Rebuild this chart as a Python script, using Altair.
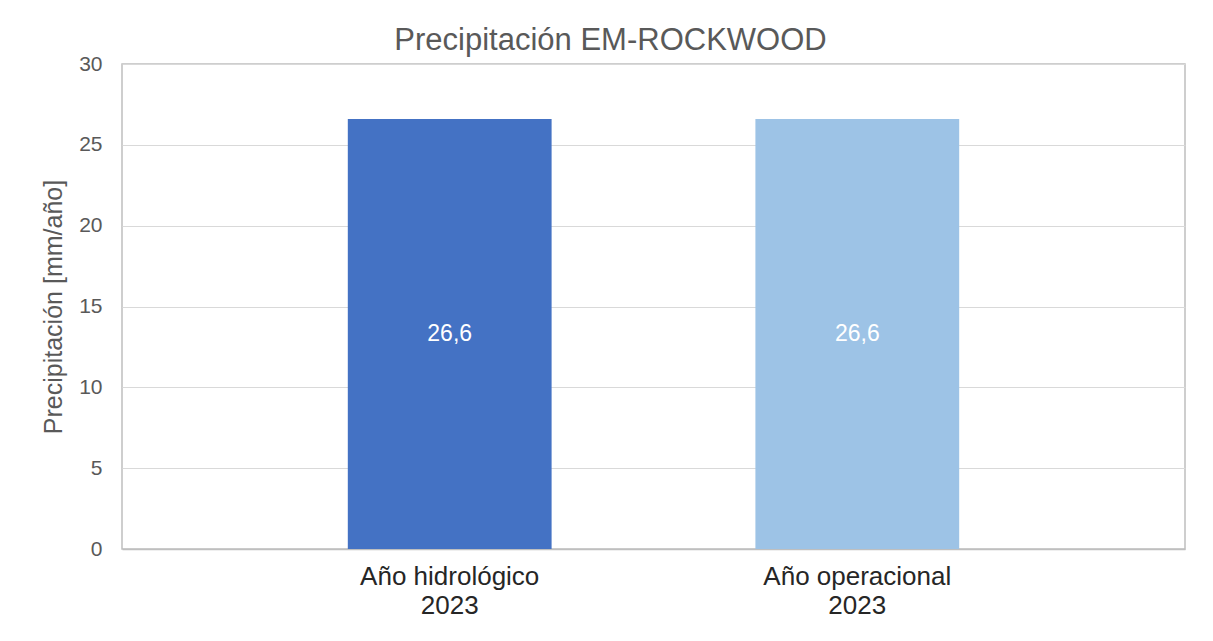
import altair as alt
import pandas as pd

categories = ["Año hidrológico 2023", "Año operacional 2023"]
label_lines = ["Año hidrológico|2023", "Año operacional|2023"]
values = [26.6, 26.6]
value_labels = ["26,6", "26,6"]
colors = ["#4472C4", "#9DC3E6"]

df = pd.DataFrame({"cat": label_lines, "val": values, "lbl": value_labels, "color": colors})

x = alt.X("cat:N", sort=label_lines, title=None,
          scale=alt.Scale(paddingInner=0.5, paddingOuter=0.554),
          axis=alt.Axis(labelAngle=0, labelExpr="split(datum.value, '|')",
                        labelFont="Liberation Sans", labelFontSize=26, labelColor="#262626",
                        labelPadding=14, labelLineHeight=29, labelLimit=500, ticks=False,
                        domainColor="#BFBFBF", domainWidth=1.5))

bars = alt.Chart(df).mark_bar().encode(
    x=x,
    y=alt.Y("val:Q", title="Precipitación [mm/año]",
            scale=alt.Scale(domain=[0, 30]),
            axis=alt.Axis(values=[0, 5, 10, 15, 20, 25, 30], ticks=False, domain=False,
                          labelFont="Liberation Sans", labelFontSize=21, labelColor="#595959",
                          labelPadding=20, titleFont="Liberation Sans", titleFontSize=25,
                          titleFontWeight="normal", titleColor="#595959", titlePadding=12,
                          gridColor="#D9D9D9", gridWidth=1)),
    color=alt.Color("color:N", scale=None),
)

text = alt.Chart(df).transform_calculate(mid="datum.val / 2").mark_text(
    font="Liberation Sans", fontSize=23, color="white", baseline="middle"
).encode(x=alt.X("cat:N", sort=label_lines), y="mid:Q", text="lbl:N")

chart = (bars + text).properties(
    width=1063, height=485,
    padding={"left": 114, "top": 56, "right": 20, "bottom": 85},
    autosize=alt.AutoSizeParams(type="none"),
    title=alt.TitleParams("Precipitación EM-ROCKWOOD", font="Liberation Sans", fontSize=31,
                          fontWeight="normal", color="#595959", anchor="middle", dx=-43, offset=-4),
).configure_view(stroke="#BFBFBF", strokeWidth=1.5)

chart.save("out.html", embed_options={"renderer": "svg", "actions": False})
